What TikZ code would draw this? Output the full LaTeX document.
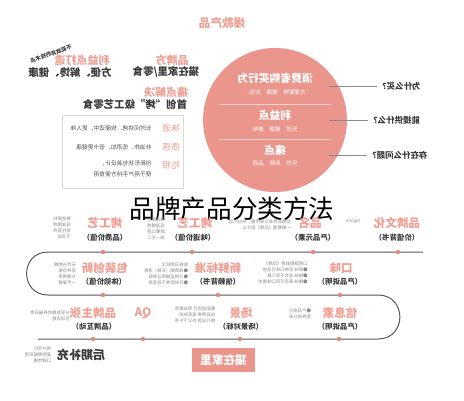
\documentclass[tikz,border=0pt]{standalone}
\usepackage{fontspec}
\setmainfont{Noto Sans CJK SC}
\usepackage{xcolor}
\usepackage{tikz}
\usetikzlibrary{positioning}

\definecolor{salmon}{HTML}{EA968C}
\definecolor{blush}{HTML}{EF9F93}
\definecolor{ink}{HTML}{3A3A3A}
\definecolor{fog}{HTML}{8A8A8A}
\definecolor{dotred}{HTML}{E2887C}

\tikzset{
    flip/.style={xscale=-1, inner sep=0.5pt},
    ttl/.style={flip, text=blush, font=\fontsize{5.8}{6}\selectfont\bfseries},
    paren/.style={flip, text=ink, font=\fontsize{3.7}{4}\selectfont\bfseries},
    note/.style={flip, text=fog, align=left, font=\fontsize{2.2}{2.9}\selectfont},
    dark/.style={flip, text=ink, font=\fontsize{5.2}{6}\selectfont\bfseries},
    ask/.style={flip, text=ink, anchor=east, font=\fontsize{4.2}{5}\selectfont\bfseries},
    incircle/.style={flip, text=white, font=\fontsize{5.4}{6}\selectfont\bfseries},
    incirclesub/.style={flip, text=white, font=\fontsize{2.8}{3}\selectfont},
    rowtxt/.style={flip, text=ink!85, anchor=west, align=left, font=\fontsize{2.9}{5.6}\selectfont},
    dotmark/.style={circle, fill=dotred, inner sep=0pt, minimum size=2.2pt},
    flow/.style={draw=ink!85, line width=0.5pt},
    askline/.style={draw=ink!60, line width=0.4pt},
}

\begin{document}
\begin{tikzpicture}[x=0.5pt, y=-0.5pt]
    \useasboundingbox (0,0) rectangle (464,400);

    \node[ttl] (hot) at (222,23) {爆款产品};

    \node[circle, fill=salmon, minimum size=72pt, inner sep=0pt] (core) at (275,120) {};
    \draw[white, opacity=0.6, line width=0.4pt] (219,104) -- (331,104);
    \draw[white, opacity=0.6, line width=0.4pt] (219,139) -- (331,139);
    \node[incircle] (buy) at (275,78) {消费者购买行为};
    \node[incirclesub] (buysub) at (275,92) {方便解馋\quad 健康\quad 女性。};
    \node[incircle] (gain) at (275,115) {利益点};
    \node[incirclesub] (gainsub) at (275,129) {天然\quad 健康\quad 美味};
    \node[incircle] (pain) at (275,150) {痛点};
    \node[incirclesub] (painsub) at (275,163) {天然\quad 新鲜\quad 品质};

    \node[ask] (askwhy) at (377,86) {为什么买？};
    \node[ask] (askgive) at (368,120) {能提供什么？};
    \node[ask] (askissue) at (367,155) {存在什么问题？};
    \coordinate (c1) at (329,86);
    \coordinate (c2) at (329,120);
    \coordinate (c3) at (329,155);
    \draw[askline] (c1) -- (askwhy.east);
    \draw[askline] (c2) -- (askgive.east);
    \draw[askline] (c3) -- (askissue.east);

    \node[rotate=19, xscale=-1, inner sep=0pt, text=ink, font=\fontsize{2.7}{3}\selectfont\bfseries] (skill) at (51,54) {不能放弃的技术点};
    \node[ttl, font=\fontsize{5.5}{6}\selectfont\bfseries] (gainmake) at (82,60) {利益点打造};
    \node[ttl, font=\fontsize{5.5}{6}\selectfont\bfseries] (brand) at (172,60) {品牌方};
    \node[dark] (merit) at (70,72) {方便、解馋、健康};
    \node[dark] (snack) at (166,72) {猫在家里/零食};
    \node[ttl, font=\fontsize{5.5}{6}\selectfont\bfseries] (solve) at (166,92) {痛点解决};
    \node[dark] (first) at (135,105) {首创“烤”级工艺零食};

    \node[draw=black!15, fill=white, minimum width=60.5pt, minimum height=36.5pt, inner sep=0pt] (feat) at (122.5,151.5) {};
    \node[ttl, font=\fontsize{4.4}{5}\selectfont] (taste) at (171,128) {味道};
    \node[ttl, font=\fontsize{4.4}{5}\selectfont] (touch) at (171,147) {质感};
    \node[ttl, font=\fontsize{4.4}{5}\selectfont] (look) at (171,165) {吃相};
    \node[rowtxt] (tastetxt) at (153,128) {长时间烘烤、软硬适中、更入味};
    \node[rowtxt] (touchtxt) at (153,147) {非油炸、低添加、低卡更健康};
    \node[rowtxt] (looktxt) at (153,169) {创新形状包装设计，\\便于用户手持方便食用};

    \node[font=\fontsize{12.8}{14}\selectfont, text=black] (title) at (232,209) {品牌产品分类方法};

    \coordinate (r1e) at (423,252);
    \coordinate (r1w) at (48,252);
    \coordinate (r2w) at (48,295);
    \coordinate (r2e) at (378,295);
    \coordinate (r3e) at (378,339);
    \coordinate (r3w) at (38,339);
    \draw[flow] (r1e) -- (r1w) to[out=180, in=180, looseness=1.7] (r2w) -- (r2e)
        to[out=0, in=0, looseness=1.7] (r3e) -- (r3w);
    \foreach \x [count=\i] in {103,192,313,398}
        \node[dotmark] (a\i) at (\x,252) {};
    \foreach \x [count=\i] in {103,218,340}
        \node[dotmark] (b\i) at (\x,295) {};
    \foreach \x [count=\i] in {93,143,240,339}
        \node[dotmark] (c\i) at (\x,339) {};

    \node[ttl] (craft) at (105,223) {烤工艺};
    \node[paren] (craftp) at (105,238) {（品质价值）};
    \node[note] (craftn) at (62,228) {精选原料\\低温慢烤\\锁住营养\\不添加};
    \node[ttl] (craftb) at (195,223) {烤工艺};
    \node[paren] (craftbp) at (193,238) {（味道价值）};
    \node[note] (craftbn) at (156,229) {精选原料\\低温慢烤\\酥脆口感\\独一无二};
    \node[ttl] (name) at (310,223) {品名};
    \node[paren] (namep) at (313,238) {（产品元素）};
    \node[note] (namen) at (260,225) {品牌名称易记易传播，突出产品\\一眼看懂《品牌》是什么};
    \node[note] (tag) at (353,221) {tagline};
    \node[ttl] (culture) at (397,223) {品牌文化};
    \node[paren] (culturep) at (397,238) {（价值背书）};

    \node[ttl] (pack) at (105,268) {包装创新};
    \node[paren] (packp) at (104,282) {（体验价值）};
    \node[note] (packn) at (65,274) {天然谷物粮\\营养均衡\\方便携带\\一手掌握};
    \node[ttl] (fresh) at (218,268) {新鲜标准};
    \node[paren] (freshp) at (218,282) {（信赖背书）};
    \node[note] (freshn) at (166,274) {新鲜日期标注\\●保质期（天数）清晰\\●冷链运输保证新鲜\\●开封即食不易变质};
    \node[ttl] (flavor) at (341,268) {口味};
    \node[paren] (flavorp) at (340,282) {（产品说明）};
    \node[note] (flavorn) at (283,273) {口感酥脆鲜香《品牌》\\●原味 多种口味可选择\\●甜味 适合不同人群\\●辣味 满足不同口味需求};

    \node[ttl] (claim) at (93,313) {品牌主张};
    \node[paren] (claimp) at (94,327) {（品牌互动）};
    \node[note] (claimn) at (50,316) {分享有趣的养猫日常\\互动话题};
    \node[ttl] (qa) at (143,313) {QA};
    \node[ttl] (scene) at (241,313) {场景};
    \node[paren] (scenep) at (241,327) {（场景对标）};
    \node[note] (scenen) at (195,315) {看剧追综艺 朋友聚会\\加班熬夜 居家休闲\\旅行出游 办公下午茶};
    \node[ttl] (info) at (340,313) {信息素};
    \node[paren] (infop) at (340,327) {（产品说明）};
    \node[note] (infon) at (300,314) {●产品成分\\营养成分表};

    \node[note] (latern) at (38,355) {用户评价\\复购数据反馈\\口碑传播};
    \node[dark, font=\fontsize{6}{7}\selectfont\bfseries] (later) at (81,355) {后期补充};
    \node[flip, fill=salmon, text=white, minimum width=31.5pt, minimum height=12pt, font=\fontsize{5.8}{6}\selectfont\bfseries] (home) at (223.5,360) {猫在家里};
\end{tikzpicture}
\end{document}
